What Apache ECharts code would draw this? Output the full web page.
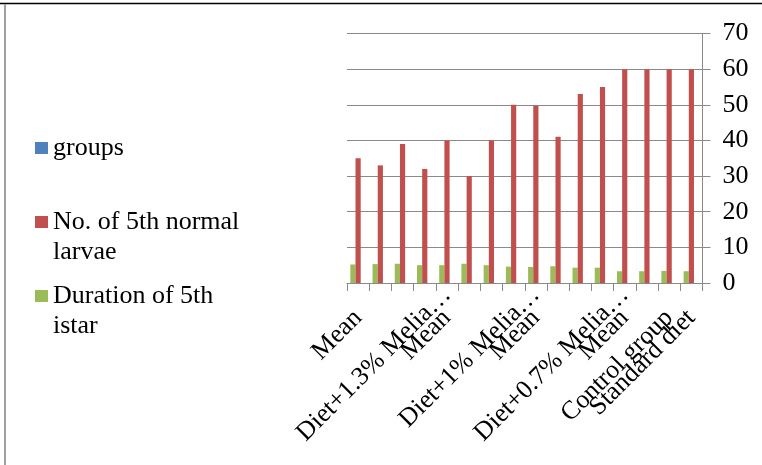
<!DOCTYPE html>
<html><head><meta charset="utf-8">
<script src="https://cdn.jsdelivr.net/npm/echarts@6/dist/echarts.min.js"></script>
<style>html,body{margin:0;padding:0;background:#fff}#c{width:762px;height:465px}</style>
</head><body><div id="c"></div>
<script>
// ---- data ----
const categories = ['Mean','','','','Mean','','','','Mean','','','','Mean','','Control group','Standard diet'];
const groupLabels = ['','','','','Diet+1.3% Melia…','','','','Diet+1% Melia…','','','','Diet+0.7% Melia…','','',''];
const normalLarvae = [35,33,39,32,40,30,40,50,49.7,41,53,55,60,60,60,60];
const durationIstar = [5.2,5.3,5.4,5.0,5.0,5.4,5.0,4.6,4.5,4.7,4.3,4.3,3.3,3.3,3.4,3.3];
const groupsValues = ['-','-','-','-','-','-','-','-','-','-','-','-','-','-','-','-'];
const yTicks = [0,10,20,30,40,50,60,70];
const seriesNames = ['groups','No. of 5th normal larvae','Duration of 5th istar'];
const legendText = ['groups','No. of 5th normal\nlarvae','Duration of 5th\nistar'];

const FONT = "'Liberation Serif','Times New Roman',serif";
const GRAY = '#8a8a8a';
const colors = ['#4F81BD','#C0504D','#9BBB59'];

const chart = echarts.init(document.getElementById('c'), null, {renderer:'canvas'});

function mkLegend(i, top, twoLine){
  return {
    show:true, orient:'vertical', left:35, top:top, padding:0,
    itemWidth:13, itemHeight:12, selectedMode:false,
    data:[{name:seriesNames[i], icon:'rect'}],
    // an empty leading line keeps the icon level with the first text line
    formatter:function(){return (twoLine ? ' \n' : '') + legendText[i];},
    textStyle:{fontFamily:FONT, fontSize:26, lineHeight:30, color:'#000'}
  };
}

chart.setOption({
  animation:false,
  backgroundColor:'#fff',
  textStyle:{fontFamily:FONT},
  grid:{left:347, right:59.5, top:33.5, bottom:182, containLabel:false},
  legend:[mkLegend(0,133,false), mkLegend(1,177,true), mkLegend(2,251,true)],
  xAxis:[{
    type:'category', data:categories, position:'bottom',
    axisLine:{show:true, lineStyle:{color:GRAY, width:1}},
    axisTick:{show:true, length:8, lineStyle:{color:GRAY}},
    axisLabel:{interval:0, rotate:45, margin:31, fontSize:26, color:'#000', fontFamily:FONT},
    splitLine:{show:false}
  },{
    type:'category', data:groupLabels, position:'bottom',
    axisLine:{show:false}, axisTick:{show:false},
    axisLabel:{interval:0, rotate:45, margin:8, fontSize:26, color:'#000', fontFamily:FONT},
    splitLine:{show:false}
  }],
  yAxis:{
    type:'value', position:'right', min:yTicks[0], max:yTicks[yTicks.length-1], interval:10,
    axisLine:{show:true, lineStyle:{color:GRAY, width:1}},
    axisTick:{show:true, length:8, lineStyle:{color:GRAY}},
    axisLabel:{margin:20, fontSize:26, color:'#000', fontFamily:FONT},
    splitLine:{show:true, lineStyle:{color:GRAY, width:1}}
  },
  series:[
    {name:seriesNames[2], type:'bar', data:durationIstar, xAxisIndex:0, itemStyle:{color:colors[2]}, barGap:'0%', barCategoryGap:'30%'},
    {name:seriesNames[1], type:'bar', data:normalLarvae, xAxisIndex:0, itemStyle:{color:colors[1]}, barGap:'0%', barCategoryGap:'30%'},
    {name:seriesNames[0], type:'bar', data:groupsValues, xAxisIndex:0, itemStyle:{color:colors[0]}, barGap:'0%', barCategoryGap:'30%'}
  ],
  graphic:[
    {type:'line', shape:{x1:0,y1:3.5,x2:762,y2:3.5}, style:{stroke:'#000', lineWidth:1.5}, silent:true},
    {type:'line', shape:{x1:5,y1:4,x2:5,y2:465}, style:{stroke:'#a0a0a0', lineWidth:2}, silent:true}
  ]
});
</script></body></html>
